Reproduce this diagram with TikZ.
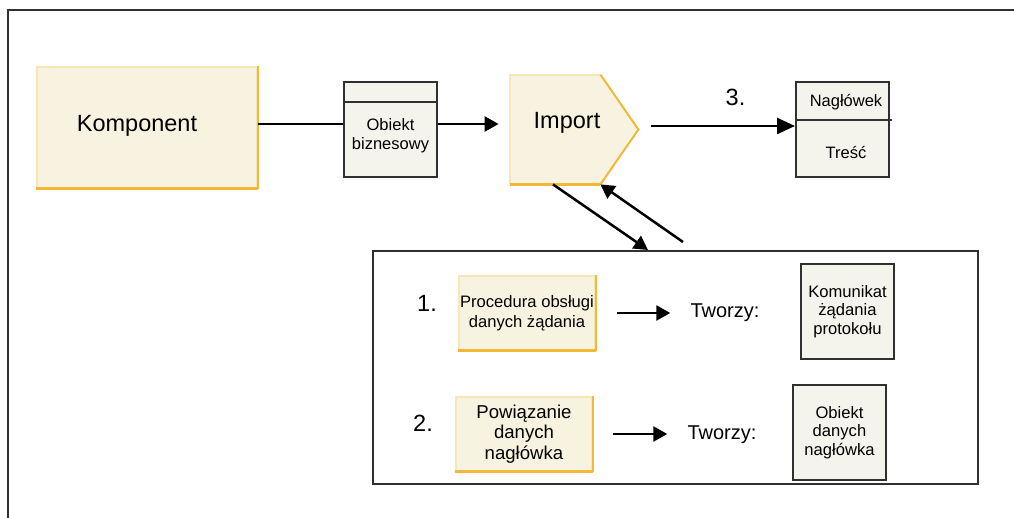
\documentclass[tikz,border=0pt]{standalone}
\usepackage{fontspec}
\setmainfont{Liberation Sans}
\usetikzlibrary{arrows.meta,calc}

\definecolor{ycream}{HTML}{F8F3E1}
\definecolor{yrim}{HTML}{F6E6B8}
\definecolor{yshade}{HTML}{F3B936}
\definecolor{gfill}{HTML}{F5F4EC}
\definecolor{gline}{HTML}{303030}

\begin{document}
\begin{tikzpicture}[x=0.5pt, y=-0.5pt,
  ybox/.style={draw=yrim, fill=ycream, line width=1pt, inner sep=0pt, align=center},
  gbox/.style={draw=gline, fill=gfill, line width=1pt, inner sep=0pt, align=center,
    minimum width=46.5pt, minimum height=47.5pt, font=\fontsize{8.3}{9.3}\selectfont},
  link/.style={line width=1.25pt, -{Triangle[length=7pt,width=7.5pt]}},
  bigtxt/.style={font=\fontsize{11.75}{14}\selectfont},
  midtxt/.style={font=\fontsize{10}{12}\selectfont},
  smalltxt/.style={font=\fontsize{8.25}{9.5}\selectfont, align=center}]
  \useasboundingbox (0,0) rectangle (1014,518);
  \draw[gline, line width=1.1pt] (8,518) -- (8,10) -- (1014,10);

  % top row
  \node[ybox, minimum width=110pt, minimum height=60.5pt] (komp) at (147,127.5) {};
  \draw[yshade, line width=1pt] (komp.north east) -- (komp.south east);
  \draw[yshade, line width=1.5pt] (komp.south east) -- (komp.south west);
  \node[bigtxt] (kompt) at (137,126) {Komponent};

  \node[gbox] (obj) at (390.5,129.5) {};
  \draw[gline, line width=1pt] ($(obj.north west)+(0,21)$) -- ($(obj.north east)+(0,21)$);
  \node[smalltxt] (objt) at (390.5,135.5) {Obiekt\\biznesowy};

  \node[minimum width=64pt, minimum height=54.5pt, inner sep=0pt] (imp) at (574,129.5) {};
  \fill[ycream] (imp.north west) -- ($(imp.north east)+(-38,0)$) -- (imp.east)
    -- ($(imp.south east)+(-38,0)$) -- (imp.south west) -- cycle;
  \draw[yrim, line width=1pt] (imp.south west) -- (imp.north west) -- ($(imp.north east)+(-38,0)$);
  \draw[yshade, line width=1pt] ($(imp.north east)+(-38,0)$) -- (imp.east) -- ($(imp.south east)+(-38,0)$);
  \draw[yshade, line width=1.5pt] ($(imp.south east)+(-38,0)$) -- (imp.south west);
  \node[bigtxt] (impt) at (567,123) {Import};

  \node[gbox] (hdr) at (842.5,129.5) {};
  \draw[gline, line width=1pt] ($(hdr.north west)+(0,39)$) -- ($(hdr.north east)+(2,39)$);
  \node[smalltxt] (hdrt) at (846,102) {Nagłówek};
  \node[smalltxt] (body) at (846,153) {Treść};

  \coordinate (r1) at (0,124);
  \coordinate (r2) at (0,126);
  \draw[line width=1.25pt] (komp.east |- r1) -- (obj.west |- r1);
  \draw[link, shorten >=5.5pt] (obj.east |- r1) -- (imp.west |- r1);
  \draw[link, -{Triangle[length=9pt,width=8pt]}, shorten <=6.5pt] (imp.east |- r2) -- (hdr.west |- r2)
    node[pos=0.62, above=6pt, bigtxt] (n3) {3.};

  % lower group
  \node[draw=gline, line width=1pt, minimum width=302.5pt, minimum height=116.5pt, inner sep=0pt] (grp) at (675.5,367.5) {};
  \draw[link] ($(imp.south)+(-21,0)$) -- ($(grp.north)+(-27.5,0)$);
  \draw[link] ($(grp.north)+(7.5,-8)$) -- ($(imp.south east)+(-38,0)$);

  \node[bigtxt] (n1) at (427,303) {1.};
  \node[ybox, minimum width=68pt, minimum height=37pt, font=\fontsize{8.3}{10}\selectfont] (proc) at (527,313) {Procedura obsługi\\danych żądania};
  \draw[yshade, line width=1pt] (proc.north east) -- (proc.south east);
  \draw[yshade, line width=1.5pt] (proc.south east) -- (proc.south west);
  \node[midtxt] (tw1) at (725,313) {Tworzy:};
  \draw[link, shorten <=10.5pt, shorten >=6.6pt] (proc.east) -- (proc.east -| tw1.west);
  \node[gbox] (msg) at (847.5,311.5) {Komunikat\\żądania\\protokołu};

  \node[bigtxt] (n2) at (423,423) {2.};
  \node[ybox, minimum width=68pt, minimum height=37pt, font=\fontsize{9.3}{10.25}\selectfont] (bind) at (524,434) {Powiązanie\\danych\\nagłówka};
  \draw[yshade, line width=1pt] (bind.north east) -- (bind.south east);
  \draw[yshade, line width=1.5pt] (bind.south east) -- (bind.south west);
  \node[midtxt] (tw2) at (722,435) {Tworzy:};
  \draw[link, shorten <=10pt, shorten >=6.6pt] (bind.east) -- (bind.east -| tw2.west);
  \node[gbox] (hdo) at (839.5,432.5) {Obiekt\\danych\\nagłówka};
\end{tikzpicture}
\end{document}
